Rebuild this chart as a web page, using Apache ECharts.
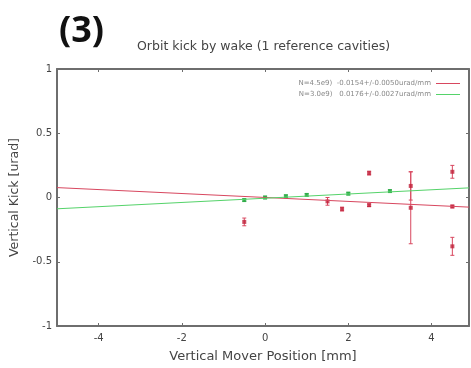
<!DOCTYPE html>
<html><head><meta charset="utf-8">
<script src="https://cdn.jsdelivr.net/npm/echarts@6/dist/echarts.min.js"></script>
<style>html,body{margin:0;padding:0;background:#fff}#c{width:471px;height:368px}</style>
</head><body><div id="c"></div>
<script>
// Tick labels
const xTicks = [-4, -2, 0, 2, 4];
const yTicks = [-1, -0.5, 0, 0.5, 1];
// Legend labels
const redName = 'N=4.5e9)  -0.0154+/-0.0050urad/mm';
const greenName = 'N=3.0e9)   0.0176+/-0.0027urad/mm';
// Red measurements: [x, y, error]
const redPoints = [
  [-0.5, -0.19, 0.03],
  [1.5, -0.03, 0.03],
  [1.85, -0.09, 0.015],
  [2.5, 0.19, 0.015],
  [2.5, -0.06, 0.01],
  [3.5, 0.09, 0.11],
  [3.5, -0.08, 0.28],
  [4.5, 0.2, 0.05],
  [4.5, -0.07, 0.01],
  [4.5, -0.38, 0.07]
];
// Green measurements: [x, y, error]
const greenPoints = [
  [-0.5, -0.02, 0.01],
  [0, 0.0, 0.01],
  [0.5, 0.01, 0.01],
  [1, 0.02, 0.01],
  [2, 0.03, 0.01],
  [3, 0.05, 0.01]
];
// Fit lines (endpoints)
const redFit = [[-5, 0.077], [4.9, -0.075]];
const greenFit = [[-5, -0.088], [4.9, 0.075]];

const RED = '#d8475f', RED_D = '#c0203a', GREEN = '#55d36a', GREEN_D = '#22a13c';
const AX = '#6e6e6e';

function errRender(color) {
  return function (params, api) {
    const x = api.value(0), y = api.value(1), e = api.value(2);
    const p1 = api.coord([x, y + e]), p2 = api.coord([x, y - e]);
    const st = { stroke: color, lineWidth: 1 };
    return { type: 'group', children: [
      { type: 'line', shape: { x1: p1[0], y1: p1[1], x2: p2[0], y2: p2[1] }, style: st },
      { type: 'line', shape: { x1: p1[0]-2, y1: p1[1], x2: p1[0]+2, y2: p1[1] }, style: st },
      { type: 'line', shape: { x1: p2[0]-2, y1: p2[1], x2: p2[0]+2, y2: p2[1] }, style: st }
    ]};
  };
}

const chart = echarts.init(document.getElementById('c'), null, { renderer: 'canvas' });
const font = 'DejaVu Sans, sans-serif';
chart.setOption({
  animation: false,
  backgroundColor: '#fff',
  textStyle: { fontFamily: font },
  graphic: [
    { type: 'text', left: 59, top: 14, style: { text: '(3)', fontSize: 36, fontWeight: 'bold', fontFamily: 'Open Sans, sans-serif', fill: '#111' } },
    { type: 'text', left: 137, top: 40, style: { text: 'Orbit kick by wake (1 reference cavities)', fontSize: 12.5, fontFamily: font, fill: '#444' } }
  ],
  legend: {
    right: 6, top: 75, orient: 'vertical', align: 'right', itemGap: 4,
    itemWidth: 24, itemHeight: 7,
    textStyle: { fontSize: 7, color: '#888', fontFamily: font },
    data: [
      { name: redName, icon: 'path://M0,3L24,3L24,4L0,4Z' },
      { name: greenName, icon: 'path://M0,3L24,3L24,4L0,4Z' }
    ]
  },
  grid: { left: 57, right: 2, top: 69, bottom: 40 },
  xAxis: [{
    type: 'value', min: -5, max: 4.9,
    name: 'Vertical Mover Position [mm]', nameLocation: 'middle', nameGap: 24,
    nameTextStyle: { fontSize: 13, color: '#444' },
    axisLine: { onZero: false, lineStyle: { color: AX, width: 2 } },
    axisTick: { inside: true, length: 3, lineStyle: { color: AX }, customValues: xTicks },
    axisLabel: { fontSize: 10, color: '#444', margin: 7, customValues: xTicks },
    splitLine: { show: false }
  }, {
    type: 'value', min: -5, max: 4.9, position: 'top',
    axisLine: { onZero: false, lineStyle: { color: AX, width: 2 } },
    axisTick: { inside: true, length: 3, lineStyle: { color: AX }, customValues: xTicks },
    axisLabel: { show: false }, splitLine: { show: false }
  }],
  yAxis: [{
    type: 'value', min: -1, max: 1, interval: 0.5,
    name: 'Vertical Kick [urad]', nameLocation: 'middle', nameGap: 34,
    nameTextStyle: { fontSize: 12.5, color: '#444' },
    axisLine: { show: true, onZero: false, lineStyle: { color: AX, width: 2 } },
    axisTick: { show: true, inside: true, length: 3, lineStyle: { color: AX } },
    axisLabel: { fontSize: 10, color: '#444', margin: 5 },
    splitLine: { show: false }
  }, {
    type: 'value', min: -1, max: 1, interval: 0.5, position: 'right',
    axisLine: { show: true, onZero: false, lineStyle: { color: AX, width: 2 } },
    axisTick: { show: true, inside: true, length: 3, lineStyle: { color: AX } },
    axisLabel: { show: false }, splitLine: { show: false }
  }],
  series: [
    { name: redName, type: 'line', data: redFit, symbol: 'none', lineStyle: { color: RED, width: 1 }, itemStyle: { color: RED } },
    { name: greenName, type: 'line', data: greenFit, symbol: 'none', lineStyle: { color: GREEN, width: 1 }, itemStyle: { color: GREEN } },
    { name: 'redErr', type: 'custom', renderItem: errRender(RED), data: redPoints },
    { name: 'greenErr', type: 'custom', renderItem: errRender(GREEN), data: greenPoints },
    { name: 'redPts', type: 'scatter', data: redPoints, symbolSize: 4, symbol: 'rect', itemStyle: { color: RED_D } },
    { name: 'greenPts', type: 'scatter', data: greenPoints, symbolSize: 4, symbol: 'rect', itemStyle: { color: GREEN_D } }
  ]
});
</script></body></html>
